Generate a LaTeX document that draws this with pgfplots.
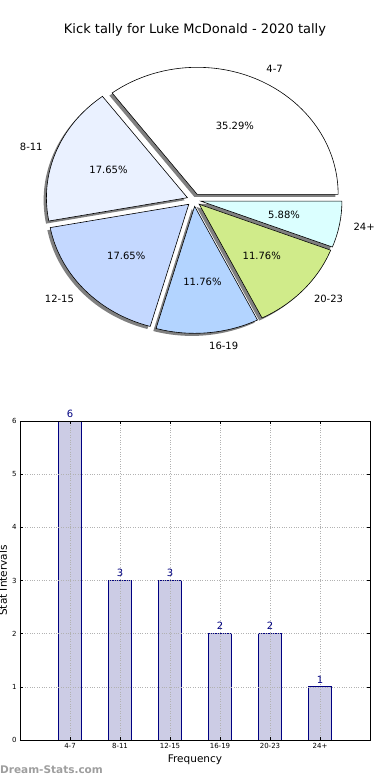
\documentclass[border=0pt]{standalone}
\usepackage{pgfplots}
\pgfplotsset{compat=1.18}
\usepackage{fontspec}
\setmainfont{DejaVu Sans}
\definecolor{c1}{HTML}{FFFFFF}
\definecolor{c2}{HTML}{EAF1FF}
\definecolor{c3}{HTML}{C4D8FF}
\definecolor{c4}{HTML}{B3D4FF}
\definecolor{c5}{HTML}{D0EB8A}
\definecolor{c6}{HTML}{DBFFFF}
\definecolor{barfill}{HTML}{CCCCE5}
\definecolor{baredge}{HTML}{000080}
\newcommand{\piedata}{6/c1/4-7, 3/c2/8-11, 3/c3/12-15, 2/c4/16-19, 2/c5/20-23, 1/c6/24+}
\def\tot{17}
\def\rx{141}
\def\ry{127}
\def\pcx{194}
\def\pcy{160}
\begin{document}
\begin{tikzpicture}[x=1pt,y=1pt]
% ---- pie ----
\begin{axis}[at={(0pt,420pt)}, anchor=south west, scale only axis,
  width=390pt, height=360pt, xmin=0, xmax=390, ymin=0, ymax=360,
  hide axis, clip=false]
\addplot[draw=none] coordinates {(0,0)};
\pgfplotsextra{
  % shadows
  \gdef\cum{0}
  \foreach \v/\col/\lab in \piedata {
    \pgfmathsetmacro\a{\cum}
    \pgfmathsetmacro\b{\cum+\v/\tot*360}
    \pgfmathsetmacro\m{(\a+\b)/2}
    \pgfmathsetmacro\cx{\pcx+0.05*\rx*cos(\m)-2.8}
    \pgfmathsetmacro\cy{\pcy+0.05*\ry*sin(\m)-2.6}
    \pgfmathsetmacro\sx{\cx+\rx*cos(\a)}
    \pgfmathsetmacro\sy{\cy+\ry*sin(\a)}
    \fill[black!50] (axis cs:\cx,\cy) -- (axis cs:\sx,\sy)
      arc[start angle=\a, end angle=\b, x radius=141pt, y radius=127pt] -- cycle;
    \xdef\cum{\b}
  }
  % wedges
  \gdef\cum{0}
  \foreach \v/\col/\lab in \piedata {
    \pgfmathsetmacro\a{\cum}
    \pgfmathsetmacro\b{\cum+\v/\tot*360}
    \pgfmathsetmacro\m{(\a+\b)/2}
    \pgfmathsetmacro\cx{\pcx+0.05*\rx*cos(\m)}
    \pgfmathsetmacro\cy{\pcy+0.05*\ry*sin(\m)}
    \pgfmathsetmacro\sx{\cx+\rx*cos(\a)}
    \pgfmathsetmacro\sy{\cy+\ry*sin(\a)}
    \filldraw[fill=\col, draw=black, line width=0.6pt, line join=miter]
      (axis cs:\cx,\cy) -- (axis cs:\sx,\sy)
      arc[start angle=\a, end angle=\b, x radius=141pt, y radius=127pt] -- cycle;
    \pgfmathsetmacro\p{\v/\tot*100}
    \pgfmathsetmacro\px{\cx+0.6*\rx*cos(\m)}
    \pgfmathsetmacro\py{\cy+0.6*\ry*sin(\m)}
    \node[font=\fontsize{10}{12}\selectfont, inner sep=0pt] at (axis cs:\px,\py)
      {\pgfmathprintnumber[fixed,precision=2,fixed zerofill,assume math mode=true]{\p}\%};
    \pgfmathsetmacro\lx{\cx+1.1*\rx*cos(\m)}
    \pgfmathsetmacro\ly{\cy+1.1*\ry*sin(\m)}
    \pgfmathtruncatemacro\side{cos(\m)>0}
    \ifnum\side=1
      \node[font=\fontsize{10}{12}\selectfont, inner sep=0pt, anchor=west] at (axis cs:\lx,\ly) {\lab};
    \else
      \node[font=\fontsize{10}{12}\selectfont, inner sep=0pt, anchor=east] at (axis cs:\lx,\ly) {\lab};
    \fi
    \xdef\cum{\b}
  }
}
\end{axis}
\node[font=\fontsize{13}{15}\selectfont] at (195,750) {Kick tally for Luke McDonald - 2020 tally};
% ---- bars ----
\begin{axis}[at={(20pt,40pt)}, anchor=south west, scale only axis,
  width=350pt, height=319pt,
  xmin=-1, xmax=6, ymin=0, ymax=6,
  xtick={0,...,5}, xticklabels={4-7,8-11,12-15,16-19,20-23,24+},
  ytick={0,...,6},
  grid=major, grid style={dotted, black!30, line width=0.6pt},
  axis on top,
  tick align=inside, tick pos=both, major tick length=3pt,
  tick style={black, line width=0.5pt},
  axis line style={line width=0.8pt},
  ticklabel style={font=\fontsize{7}{8}\selectfont},
  /pgf/number format/assume math mode=true,
  xlabel={Frequency}, ylabel={Stat Intervals},
  every axis x label/.style={at={(axis description cs:0.5,0)}, anchor=center, yshift=-20pt, font=\fontsize{10.5}{12}\selectfont},
  every axis y label/.style={at={(axis description cs:-0.049,0.5)}, rotate=90, anchor=center, font=\fontsize{10.5}{12}\selectfont}]
\addplot[ybar, bar width=0.45, fill=barfill, draw=baredge, line width=0.7pt,
  nodes near coords, nodes near coords style={font=\fontsize{10}{11}\selectfont, text=baredge}]
  coordinates {(0,6) (1,3) (2,3) (3,2) (4,2) (5,1)};
\end{axis}
\node[font=\bfseries\fontsize{10.5}{12}\selectfont, text=black!38, anchor=west, inner sep=0pt] at (0,10) {Dream-Stats.com};
\pgfresetboundingbox
\path[use as bounding box] (0,0) rectangle (390,780);
\end{tikzpicture}
\end{document}
